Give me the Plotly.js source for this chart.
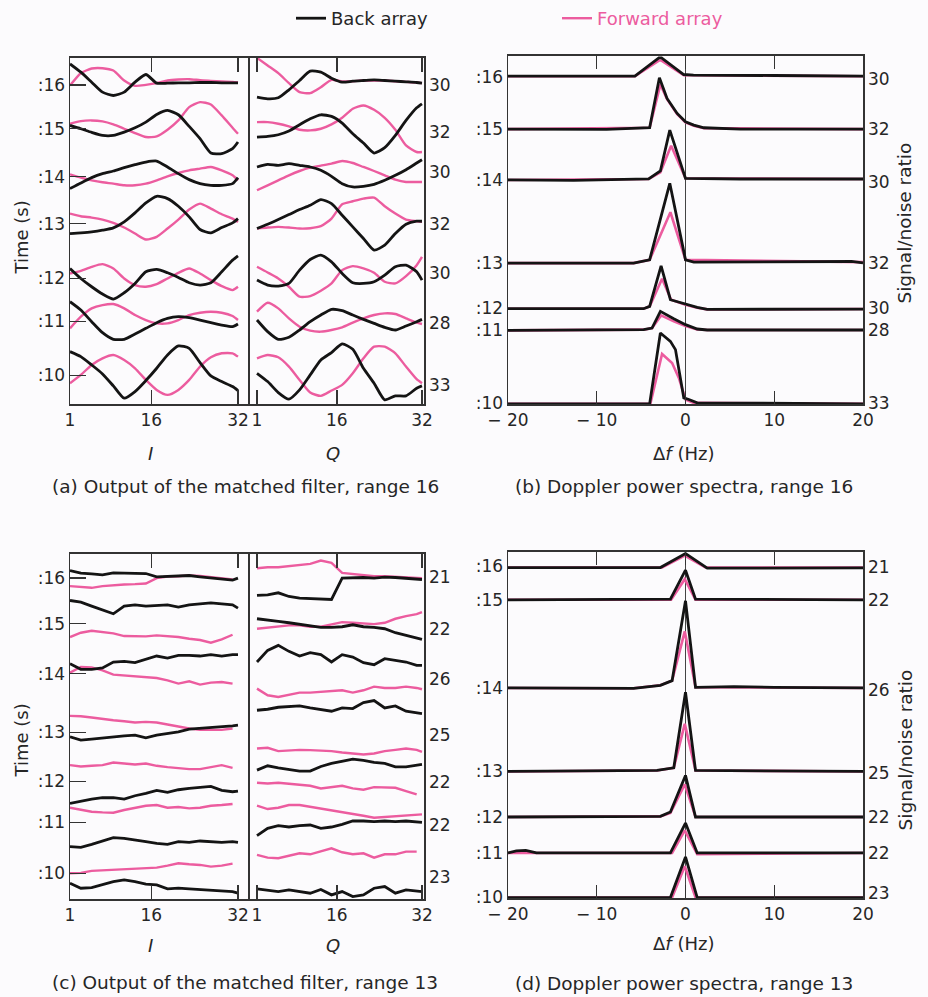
<!DOCTYPE html>
<html><head><meta charset="utf-8">
<script src="https://cdn.plot.ly/plotly-3.0.1.min.js"></script>
<style>html,body{margin:0;padding:0;background:#fcfbfd;}#chart{width:928px;height:997px;}</style>
</head><body><div id="chart"></div>
<script>
// ---------------- DATA ----------------
// sample index along the 32-element array (I and Q outputs)
const sampleIndex = [1,3,5,7,9,11,13,15,17,19,21,23,25,27,29,31,32];
const timeLabels = [':16',':15',':14',':13',':12',':11',':10'];
const snrRange16 = ['30','32','30','32','30','28','33'];
const snrRange13 = ['21','22','26','25','22','22','23'];

// Matched-filter output, range 16 (stacked traces, offset units increase downward)
const r16_I_back = [
 [30,55,85,115,125,115,85,62,88,88,87,87,86,86,87,87,87],
 [215,225,236,245,245,235,222,205,182,170,183,218,255,298,300,285,265],
 [405,388,372,360,352,342,333,325,322,340,360,378,390,395,395,390,372],
 [540,538,535,530,523,505,478,448,428,435,458,490,528,538,522,508,495],
 [645,675,700,722,737,718,690,655,648,658,672,688,695,688,655,620,607],
 [745,770,805,838,858,858,842,825,808,795,790,793,800,808,815,820,812],
 [895,910,935,962,998,1035,1015,982,945,905,878,885,928,968,985,1000,1012]];
const r16_I_fwd = [
 [95,58,44,43,50,80,96,93,88,80,77,76,79,81,83,84,86],
 [210,202,200,203,212,225,238,250,248,228,200,160,145,152,185,222,240],
 [362,372,380,386,390,395,395,390,380,368,358,350,345,340,350,365,380],
 [480,488,492,498,508,522,540,558,550,525,498,468,450,465,482,495,505],
 [660,652,640,632,645,675,695,700,692,675,658,645,660,680,698,710,700],
 [825,790,765,755,752,765,785,800,810,810,800,785,778,775,778,788,800],
 [990,965,935,915,905,920,945,980,1010,1025,1010,980,940,912,900,900,910]];
const r16_Q_back = [
 [130,135,132,108,80,52,55,73,85,82,80,78,80,82,84,86,88],
 [250,248,243,232,213,195,183,188,208,240,268,298,282,245,200,162,150],
 [340,332,335,330,335,340,350,368,390,400,398,392,380,365,348,328,318],
 [525,512,498,483,468,455,438,450,485,520,555,590,575,540,512,503,503],
 [680,695,698,690,650,618,605,625,660,688,690,685,665,640,635,655,680],
 [800,835,858,852,830,805,785,768,772,785,798,810,822,830,818,805,798],
 [960,985,1018,1038,1010,965,920,898,872,888,945,990,1040,1028,1028,1005,998]];
const r16_Q_fwd = [
 [12,35,58,88,115,118,100,78,83,82,80,80,80,82,84,86,88],
 [205,205,210,218,228,230,225,212,192,165,155,168,192,228,275,295,295],
 [410,395,380,365,352,342,336,330,322,328,340,352,365,378,385,385,385],
 [525,522,520,522,525,524,518,495,452,443,435,432,458,480,498,503,505],
 [640,657,675,700,730,728,712,690,650,638,645,658,685,690,668,635,610],
 [775,748,765,795,820,832,835,830,822,808,795,785,780,782,795,808,812],
 [915,905,912,940,980,1018,1028,1012,995,960,915,880,880,900,940,978,990]];

// Matched-filter output, range 13
const r13_I_back = [
 [65,73,75,78,72,72,72,74,84,83,80,80,84,88,92,94,88],
 [155,160,172,183,195,172,168,172,170,168,175,168,165,162,165,168,178],
 [345,362,362,358,340,338,342,332,322,328,320,320,322,318,322,318,318],
 [565,575,572,568,565,562,560,568,560,555,550,542,540,538,534,532,530],
 [765,758,752,748,748,752,742,735,726,732,724,720,716,714,726,730,728],
 [895,897,888,878,868,870,876,880,885,888,880,882,878,880,882,880,882],
 [1005,1020,1018,1008,1000,995,1000,1008,1010,1022,1020,1022,1024,1026,1028,1030,1035]];
const r13_I_fwd = [
 [112,114,117,112,109,107,106,104,88,83,82,80,81,84,88,92,null],
 [265,252,246,250,254,262,262,263,260,262,265,270,274,282,272,258,null],
 [372,355,356,365,378,380,384,385,388,395,405,398,408,402,400,405,null],
 [502,503,507,512,515,518,522,520,522,528,535,540,544,545,544,540,null],
 [650,654,652,650,642,645,648,645,652,656,660,662,662,656,650,658,null],
 [778,785,790,792,793,785,778,772,770,778,776,780,778,772,770,767,null],
 [975,974,968,966,966,964,962,960,958,952,945,948,950,955,952,946,null]];
const r13_Q_back = [
 [140,138,132,143,148,150,152,152,88,86,86,88,85,86,88,90,92],
 [210,215,218,222,226,230,236,236,234,228,234,236,240,252,260,266,272],
 [340,305,290,308,322,312,318,340,318,325,342,348,330,335,340,350,350],
 [485,482,476,474,472,478,484,488,478,480,462,456,478,472,488,492,495],
 [665,652,658,662,668,668,654,645,638,632,636,642,645,655,655,650,648],
 [862,840,832,836,832,830,840,836,828,818,818,820,818,820,818,820,822],
 [1022,1025,1030,1025,1030,1035,1024,1040,1030,1045,1040,1020,1015,1035,1025,1028,1030]];
const r13_Q_fwd = [
 [58,55,55,52,50,45,35,42,72,76,80,82,82,84,84,86,88],
 [240,236,232,230,230,234,234,228,220,222,224,226,222,210,202,196,190],
 [420,440,445,438,432,432,430,428,425,432,425,414,418,418,414,418,422],
 [600,598,608,606,604,605,606,608,612,615,618,615,608,604,600,604,610],
 [703,705,703,706,710,712,720,716,712,720,724,716,718,718,728,738,null],
 [772,782,778,770,770,775,780,785,790,796,802,808,806,804,800,800,798],
 [920,928,930,922,915,918,908,900,912,918,915,928,918,918,910,910,null]];

// Doppler power spectra, range 16: vertex frequencies (Hz) and stacked levels
const r16_spec_f_back = [
 [-20,-12.6,-5.7,-3.0,-2.7,-0.2,0.9,10,20],
 [-20,-8.9,-4.04,-2.94,-2.08,-0.94,0,0.94,2.08,6.2,20],
 [-20,-12.6,-4.15,-2.83,-1.77,0,6.2,20],
 [-20,-5.85,-4.04,-1.77,0,0.94,18.7,20],
 [-20,-4.72,-4.04,-2.75,-1.7,-1.32,0,1.32,2.45,20],
 [-20,-4.72,-3.77,-2.83,-1.32,0,1.32,2.45,20],
 [-20,-4.04,-2.83,-1.7,-1.13,-0.19,0.38,1.32,20]];
const r16_spec_p_back = [
 [103,104,103,48,48,98,100,101,103],
 [262,263,258,108,170,215,240,250,258,262,262],
 [415,416,412,388,265,410,412,412],
 [665,665,655,425,655,662,660,664],
 [802,802,795,673,775,778,788,798,804,803],
 [867,865,860,810,832,850,863,866,866],
 [1088,1088,875,900,925,1070,1075,1085,1088]];
const r16_spec_f_fwd = [
 [-20,-5.7,-3.0,-2.7,-0.2,0.9,20],
 [-20,-4.04,-2.83,-2.08,-0.94,0,0.94,2.08,20],
 [-20,-4.15,-2.83,-1.62,0,20],
 [-20,-5.85,-4.04,-1.7,0,20],
 [-20,-4.72,-4.04,-2.64,-1.62,0,1.32,2.45,20],
 [-20,-4.72,-3.77,-2.75,-1.32,0,1.32,2.45,20],
 [-20,-3.96,-2.64,-1.51,-0.75,0,0.94,20]];
const r16_spec_p_fwd = [
 [103,103,56,56,100,100,103],
 [262,258,128,172,217,242,252,259,262],
 [415,412,392,312,410,412],
 [665,665,655,512,655,662],
 [802,802,795,712,775,790,799,804,803],
 [867,865,860,822,840,854,864,866,866],
 [1088,1088,938,965,1010,1075,1085,1088]];

// Doppler power spectra, range 13
const r13_spec_f_back = [
 [-20,-2.83,0,2.45,20],
 [-20,-1.7,0,1.13,20],
 [-20,-5.85,-2.83,-1.51,0,1.13,5.47,10,20],
 [-20,-3.21,-1.32,0,1.13,20],
 [-20,-2.83,-1.7,0,1.13,20],
 [-20,-19.06,-18,-16.8,-1.7,0,1.32,20],
 [-20,-1.7,0,1.32,20]];
const r13_spec_p_back = [
 [80,80,38,82,81],
 [177,175,88,175,177],
 [442,443,434,420,180,440,438,440,442],
 [693,690,682,455,690,693],
 [830,828,815,705,830,830],
 [938,932,930,938,938,848,938,938],
 [1072,1072,950,1072,1072]];
const r13_spec_f_fwd = [
 [-20,-2.64,-0.08,2.26,20],
 [-20,-1.62,-0.08,1.13,20],
 [-20,-5.85,-2.83,-1.51,-0.08,1.13,20],
 [-20,-3.21,-1.32,-0.08,1.13,20],
 [-20,-2.83,-1.7,-0.08,1.13,20],
 [-20,-1.51,-0.08,1.32,20],
 [-20,-1.51,-0.08,1.13,20]];
const r13_spec_p_fwd = [
 [80,80,44,80,80],
 [177,177,115,177,177],
 [442,443,434,420,272,440,442],
 [693,690,682,550,690,693],
 [830,828,818,732,830,830],
 [938,938,870,942,938],
 [1072,1072,978,1072,1072]];

// ---------------- LAYOUT CONSTANTS ----------------
const W = 928, H = 997;
const FONT = 'DejaVu Sans';
const TXT = '#262626';
const BLACK = '#141414';
const PINK = '#ec5c9f';
const fx = p => p / W;
const fy = p => 1 - p / H;
// label positions on the stacked axes
const tickPos = {
  aTime:[93,225,369,510,675,804,966], aSnr:[93,234,354,510,660,810,996],
  bTime:[105,261,414,666,801,867,1085], bSnr:[111,261,420,666,801,867,1085],
  cTime:[87,225,375,552,699,822,975], cSnr:[84,241,391,561,701,831,986],
  dTime:[77,177,442,693,830,938,1070], dSnr:[80,177,448,697,830,938,1060]
};

// ---------------- TRACES ----------------
const traces = [];
let legendBackDone = false, legendFwdDone = false;
function addRows(xsList, rows, xa, ya, color, width, shape, kind) {
  rows.forEach((r, i) => {
    const xs = Array.isArray(xsList[0]) ? xsList[i] : xsList;
    let show = false;
    if (kind === 'back' && !legendBackDone) { show = true; legendBackDone = true; }
    if (kind === 'fwd' && !legendFwdDone) { show = true; legendFwdDone = true; }
    traces.push({
      type:'scatter', mode:'lines', x: xs, y: r, xaxis: xa, yaxis: ya,
      line:{color: color, width: width, shape: shape, smoothing: 0.6},
      name: kind === 'back' ? 'Back array' : '<span style="color:' + PINK + '">Forward array</span>',
      legendgroup: kind, legendrank: kind === 'back' ? 1 : 2,
      showlegend: show, hoverinfo:'skip', connectgaps:false
    });
  });
}
// panel (a): I on x/y, Q on x2/y2 (y2 carries the signal/noise labels)
addRows(sampleIndex, r16_I_fwd, 'x', 'y', PINK, 2.4, 'spline', 'fwd');
addRows(sampleIndex, r16_I_back, 'x', 'y', BLACK, 2.8, 'spline', 'back');
addRows(sampleIndex, r16_Q_fwd, 'x2', 'y2', PINK, 2.4, 'spline', 'fwd');
addRows(sampleIndex, r16_Q_back, 'x2', 'y2', BLACK, 2.8, 'spline', 'back');
// panel (b)
addRows(r16_spec_f_fwd, r16_spec_p_fwd, 'x3', 'y3', PINK, 2.6, 'linear', 'fwd');
addRows(r16_spec_f_back, r16_spec_p_back, 'x3', 'y4', BLACK, 2.8, 'linear', 'back');
// panel (c)
addRows(sampleIndex, r13_I_fwd, 'x4', 'y5', PINK, 2.4, 'linear', 'fwd');
addRows(sampleIndex, r13_I_back, 'x4', 'y5', BLACK, 2.8, 'linear', 'back');
addRows(sampleIndex, r13_Q_fwd, 'x5', 'y6', PINK, 2.4, 'linear', 'fwd');
addRows(sampleIndex, r13_Q_back, 'x5', 'y6', BLACK, 2.8, 'linear', 'back');
// panel (d)
addRows(r13_spec_f_fwd, r13_spec_p_fwd, 'x6', 'y7', PINK, 2.6, 'linear', 'fwd');
addRows(r13_spec_f_back, r13_spec_p_back, 'x6', 'y8', BLACK, 2.8, 'linear', 'back');

// ---------------- AXES ----------------
const base = {showline:true, linecolor:'#333', linewidth:1.5, showgrid:false, zeroline:false,
  tickcolor:'#333', tickwidth:1.4, tickmode:'array', fixedrange:true,
  tickfont:{family:FONT, size:17, color:TXT}};
const idxAxis = (dom, range, anchor) => Object.assign({}, base, {domain:dom, range:range, anchor:anchor,
  tickvals:[1,16,32], ticktext:['1','16','32'], ticks:'inside', ticklen:14, mirror:'ticks'});
const dfAxis = (anchor) => Object.assign({}, base, {domain:[fx(508), fx(863)], range:[-20,20], anchor:anchor,
  tickvals:[-20,-10,0,10,20], ticktext:['\u2212 20','\u2212 10','0','10','20'], ticks:'inside', ticklen:13,
  mirror:'ticks', zeroline:true, zerolinecolor:'#444', zerolinewidth:1.3});
const leftAxis = (dom, range, anchor, vals, inside) => Object.assign({}, base, {domain:dom, range:range, anchor:anchor,
  tickvals:vals, ticktext:timeLabels, ticks: inside ? 'inside' : '', ticklen: inside ? 16 : 0, mirror:true});
// right-hand signal/noise label axis; 'over' null -> independent axis sharing the same domain/range
const rightAxis = (over, dom, range, anchor, vals, txt) => {
  const a = Object.assign({}, base, {side:'right', domain:dom, range:range, anchor:anchor,
    tickvals:vals, ticktext:txt, ticks:'', mirror:false});
  if (over) a.overlaying = over;
  return a;
};

const annFont = (s) => ({family:FONT, size:s, color:TXT});
const ann = (text, x, y, xref, size, extra) => Object.assign({text:text, x:x, y:y, xref:xref, yref:'paper',
  showarrow:false, xanchor:'center', yanchor:'middle', font:annFont(size)}, extra || {});

const domA = [fy(403), fy(56)], domB = [fy(403), fy(54)], domC = [fy(899), fy(553)], domD = [fy(898), fy(551)];

const layout = {
  width:W, height:H, margin:{l:0, r:0, t:0, b:0},
  paper_bgcolor:'#fcfbfd', plot_bgcolor:'rgba(0,0,0,0)',
  showlegend:true,
  legend:{orientation:'h', x:fx(291), y:fy(-2), xanchor:'left', yanchor:'top',
    font:{family:FONT, size:18, color:TXT}, bgcolor:'rgba(0,0,0,0)', entrywidth:221, traceorder:'normal'},
  xaxis: idxAxis([fx(70), fx(248)], [1, 33.85], 'y'),
  xaxis2: idxAxis([fx(248), fx(424)], [-0.69, 32.38], 'y2'),
  yaxis: leftAxis(domA, [1053, 12], 'x', tickPos.aTime, true),
  yaxis2: rightAxis(null, domA, [1053, 12], 'x2', tickPos.aSnr, snrRange16),
  xaxis3: dfAxis('y3'),
  yaxis3: leftAxis(domB, [1089, 42], 'x3', tickPos.bTime, false),
  yaxis4: rightAxis('y3', domB, [1089, 42], 'x3', tickPos.bSnr, snrRange16),
  xaxis4: idxAxis([fx(70), fx(248)], [1, 33.85], 'y5'),
  xaxis5: idxAxis([fx(248), fx(424)], [-0.69, 32.38], 'y6'),
  yaxis5: leftAxis(domC, [1053, 15], 'x4', tickPos.cTime, true),
  yaxis6: rightAxis(null, domC, [1053, 15], 'x5', tickPos.cSnr, snrRange13),
  xaxis6: dfAxis('y7'),
  yaxis7: leftAxis(domD, [1074, 33], 'x6', tickPos.dTime, false),
  yaxis8: rightAxis('y7', domD, [1074, 33], 'x6', tickPos.dSnr, snrRange13),
  annotations: [
    ann('Time (s)', fx(22), fy(236), 'paper', 18, {textangle:-90}),
    ann('Time (s)', fx(22), fy(740), 'paper', 18, {textangle:-90}),
    ann('Signal/noise ratio', fx(905), fy(222), 'paper', 18.5, {textangle:-90}),
    ann('Signal/noise ratio', fx(905), fy(750), 'paper', 18.5, {textangle:-90}),
    ann('<i>I</i>', 15.8, fy(452), 'x', 18),
    ann('<i>Q</i>', 15.3, fy(452), 'x2', 18),
    ann('\u0394<i>f</i> (Hz)', -0.2, fy(452), 'x3', 18),
    ann('<i>I</i>', 15.8, fy(945), 'x4', 18),
    ann('<i>Q</i>', 15.3, fy(945), 'x5', 18),
    ann('\u0394<i>f</i> (Hz)', -0.2, fy(943), 'x6', 18),
    ann('(a) Output of the matched filter, range 16', fx(245), fy(485), 'paper', 18.5),
    ann('(b) Doppler power spectra, range 16', fx(684), fy(485), 'paper', 18.5),
    ann('(c) Output of the matched filter, range 13', fx(245), fy(982), 'paper', 18.5),
    ann('(d) Doppler power spectra, range 13', fx(684), fy(983), 'paper', 18.5)
  ]
};

Plotly.newPlot('chart', traces, layout, {staticPlot:true, displayModeBar:false});
</script></body></html>
